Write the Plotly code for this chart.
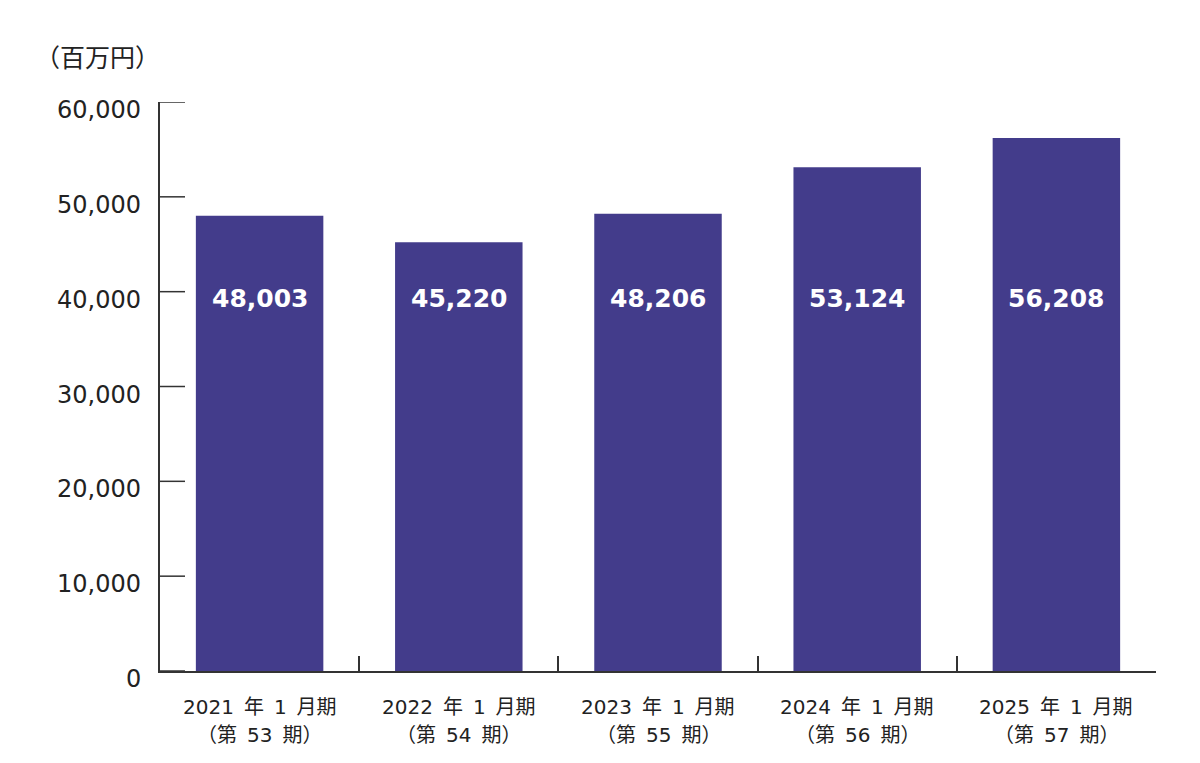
import plotly.graph_objects as go

categories = ["2021年1月期", "2022年1月期", "2023年1月期", "2024年1月期", "2025年1月期"]
years = ["2021", "2022", "2023", "2024", "2025"]
periods = ["53", "54", "55", "56", "57"]
values = [48003, 45220, 48206, 53124, 56208]
y_ticks = [0, 10000, 20000, 30000, 40000, 50000, 60000]
y_tick_labels = ["0", "10,000", "20,000", "30,000", "40,000", "50,000", "60,000"]
unit_label = "（百万円）"

BAR = "#433c8b"
AX = "#333333"
NUM_FONT = "DejaVu Sans, Noto Sans CJK JP"
JP_FONT = "DejaVu Sans, Noto Sans CJK JP"
SP = "\u2002"

fig = go.Figure()
fig.add_trace(go.Bar(
    x=categories, y=values, marker=dict(color=BAR, line=dict(width=0)),
    width=0.64, hoverinfo="skip",
))

ann = []
# value labels inside bars
for c, v in zip(categories, values):
    ann.append(dict(x=c, y=0.654, xref="x", yref="paper", text=f"{v:,}",
                    showarrow=False, font=dict(family="DejaVu Sans", size=25, color="white", weight="bold"),
                    xanchor="center", yanchor="middle"))
# y tick labels
for t, lab in zip(y_ticks, y_tick_labels):
    ann.append(dict(x=0, y=t, xref="paper", yref="y", text=lab, showarrow=False,
                    font=dict(family=NUM_FONT, size=24, color="#222"),
                    xanchor="right", yanchor="middle", xshift=-17, yshift=-8))
# x category labels (two lines)
for c, yr, p in zip(categories, years, periods):
    ann.append(dict(x=c, y=0, xref="x", yref="paper", text=f"{yr}{SP}年{SP}1{SP}月期", showarrow=False,
                    font=dict(family=JP_FONT, size=20, color="#222"),
                    xanchor="center", yanchor="middle", yshift=-36))
    ann.append(dict(x=c, y=0, xref="x", yref="paper", text=f"（第{SP}{p}{SP}期）", showarrow=False,
                    font=dict(family=JP_FONT, size=20, color="#222"),
                    xanchor="center", yanchor="middle", yshift=-64))
# unit label
ann.append(dict(x=0, y=1, xref="paper", yref="paper", text=unit_label, showarrow=False,
                font=dict(family="Noto Sans CJK JP", size=25, color="#222"),
                xanchor="center", yanchor="middle", xshift=-63, yshift=46))

# inward y tick marks (drawn explicitly so edge ticks are kept)
shapes = []
for t in y_ticks:
    shapes.append(dict(type="line", xref="paper", yref="y", xsizemode="pixel", xanchor=0,
                       x0=0, x1=25, y0=t, y1=t, line=dict(color=AX, width=1.5), layer="above"))

fig.update_layout(
    width=1200, height=763,
    margin=dict(l=160, r=44, t=102, b=92),
    paper_bgcolor="white", plot_bgcolor="white",
    showlegend=False, annotations=ann, shapes=shapes,
    xaxis=dict(type="category", showgrid=False, showline=True, linecolor=AX, linewidth=1.5,
               ticks="inside", ticklen=15, tickwidth=1.5, tickcolor=AX, tickson="boundaries",
               showticklabels=False, range=[-0.5, 4.5], zeroline=False),
    yaxis=dict(range=[0, 60000], tickvals=y_ticks, showgrid=False, showline=True, linecolor=AX,
               linewidth=1.5, ticks="", showticklabels=False, zeroline=False),
)

fig.write_html("out.html")
